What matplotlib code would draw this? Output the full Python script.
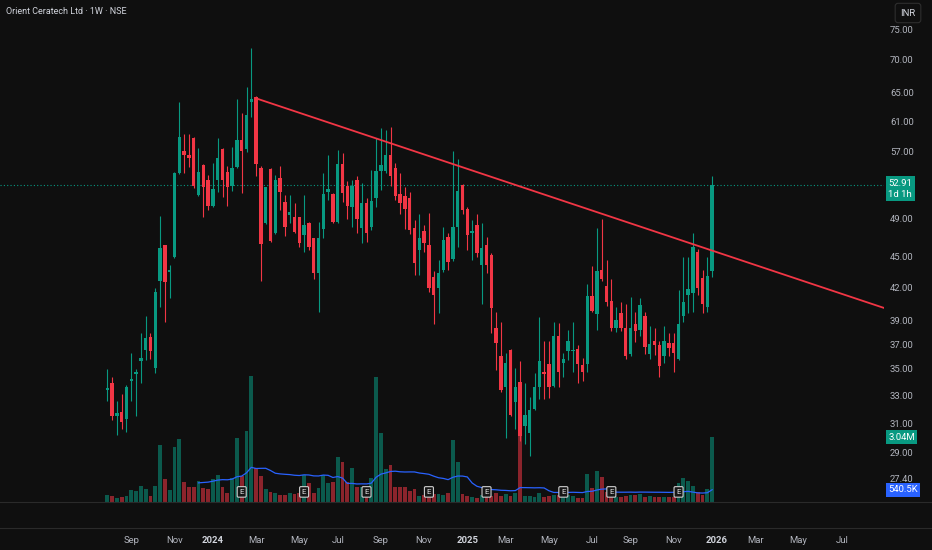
import numpy as np
import pandas as pd
import matplotlib
matplotlib.use('Agg')
import matplotlib.pyplot as plt
from matplotlib.lines import Line2D
from matplotlib.ticker import FixedLocator, NullLocator
from matplotlib.transforms import blended_transform_factory

plt.rcParams['font.family'] = ['Roboto', 'DejaVu Sans']

# weekly candles, first bar = week of 2023-07-31
first_week = '2023-07-31'
opens = [33.4, 33.9, 31.5, 31.8, 31.3, 34.1, 34.6, 35.6, 36.5, 37.6,
         35.1, 42.6, 46.2, 43.5, 45.0, 54.3, 57.0, 56.5, 58.8, 51.7,
         55.3, 53.5, 50.4, 53.5, 57.3, 54.4, 52.8, 55.0, 58.5, 57.3,
         63.7, 64.4, 54.9, 48.5, 54.8, 47.5, 53.7, 50.9, 49.4, 49.2,
         49.2, 47.3, 48.5, 46.9, 43.4, 47.9, 52.1, 51.8, 48.7, 55.4,
         52.8, 50.3, 53.5, 48.0, 50.8, 48.1, 51.4, 54.6, 54.6, 56.5,
         54.9, 51.8, 51.6, 51.3, 48.0, 45.7, 47.7, 46.2, 43.0, 42.0,
         43.7, 47.0, 44.8, 48.1, 52.9, 50.1, 47.5, 48.3, 44.2, 46.2,
         45.2, 38.4, 36.0, 33.6, 36.5, 32.5, 34.0, 30.8, 30.3, 32.0,
         33.6, 34.8, 35.4, 33.7, 37.7, 35.5, 36.4, 36.4, 36.6, 35.3,
         35.4, 41.2, 39.6, 43.7, 42.2, 40.8, 38.4, 39.7, 38.4, 36.2,
         38.7, 38.2, 39.4, 36.2, 37.3, 36.9, 36.0, 37.1, 37.1, 35.8,
         39.4, 41.3, 41.5, 45.5, 42.9, 40.2, 43.6]
highs = [35.0, 34.4, 32.6, 33.1, 33.8, 36.3, 35.0, 37.9, 39.4, 37.9,
         42.0, 49.3, 46.2, 44.2, 54.4, 63.7, 59.3, 59.3, 58.9, 57.5,
         55.4, 54.1, 55.6, 58.8, 57.5, 55.2, 57.6, 64.1, 62.1, 65.9,
         71.8, 64.6, 55.2, 52.6, 54.9, 54.1, 55.2, 51.7, 51.7, 50.8,
         49.2, 51.7, 48.7, 46.9, 48.7, 54.3, 56.5, 51.9, 57.2, 56.8,
         53.3, 53.5, 53.9, 53.1, 51.3, 54.7, 58.8, 60.1, 59.8, 60.2,
         55.6, 54.3, 52.6, 52.1, 48.9, 49.5, 48.3, 49.7, 43.6, 44.7,
         48.1, 47.5, 57.0, 56.1, 53.0, 50.3, 48.9, 49.5, 48.6, 47.0,
         45.4, 39.8, 38.9, 36.3, 36.6, 35.1, 35.6, 33.9, 32.9, 34.7,
         39.3, 37.3, 37.3, 38.9, 38.8, 36.3, 38.2, 38.9, 36.9, 35.9,
         42.3, 44.1, 48.0, 49.0, 44.7, 42.8, 40.2, 40.7, 40.5, 41.1,
         39.8, 41.0, 39.8, 38.5, 38.4, 37.3, 38.5, 37.9, 37.9, 41.8,
         45.0, 45.0, 47.5, 45.8, 43.7, 45.0, 54.0]
lows = [32.6, 31.2, 30.2, 30.6, 30.4, 32.6, 31.5, 33.9, 35.7, 35.8,
        34.7, 40.2, 38.9, 41.0, 44.9, 54.2, 54.3, 55.0, 52.5, 51.6,
        49.2, 50.0, 50.3, 52.1, 51.5, 50.4, 52.2, 54.9, 51.9, 56.9,
        61.6, 54.0, 42.6, 48.4, 46.5, 47.4, 50.0, 47.2, 48.6, 47.5,
        46.0, 45.5, 45.7, 42.8, 39.8, 46.9, 51.1, 48.5, 48.5, 50.9,
        49.0, 48.1, 47.5, 46.4, 46.5, 47.8, 50.3, 52.3, 54.3, 52.8,
        51.1, 49.5, 47.9, 47.4, 43.2, 43.2, 45.5, 41.6, 38.7, 39.7,
        43.5, 43.7, 44.6, 46.0, 49.5, 45.7, 44.7, 45.0, 40.5, 43.4,
        37.9, 34.9, 33.2, 30.0, 31.5, 30.6, 29.8, 29.6, 28.8, 31.9,
        32.7, 32.7, 32.8, 33.6, 33.6, 34.4, 35.7, 34.8, 33.9, 34.1,
        34.8, 39.8, 38.2, 42.6, 40.3, 38.1, 38.0, 38.1, 35.8, 36.0,
        37.2, 37.7, 36.2, 35.8, 36.1, 34.4, 35.5, 36.0, 34.8, 35.7,
        38.9, 39.7, 39.8, 41.3, 39.7, 39.8, 43.0]
closes = [33.5, 31.5, 31.7, 31.1, 33.6, 34.2, 34.7, 35.9, 37.5, 36.4,
          41.6, 45.9, 42.5, 43.7, 54.3, 58.9, 56.5, 56.2, 52.7, 54.4,
          52.6, 50.4, 52.4, 56.2, 53.5, 52.6, 54.9, 58.5, 57.1, 61.9,
          64.1, 55.4, 46.3, 52.6, 46.6, 53.5, 52.1, 48.1, 49.8, 47.6,
          46.4, 48.3, 46.0, 43.4, 46.9, 51.8, 52.4, 48.7, 55.4, 51.9,
          50.4, 52.7, 49.0, 50.8, 47.5, 51.0, 54.5, 55.3, 56.5, 53.9,
          51.6, 50.8, 50.1, 47.8, 44.4, 46.9, 46.4, 42.0, 41.3, 43.4,
          46.7, 44.5, 48.1, 52.2, 50.0, 47.3, 47.7, 45.4, 45.9, 44.2,
          40.1, 37.1, 33.4, 35.5, 31.6, 33.6, 30.1, 31.6, 31.9, 33.6,
          35.6, 34.6, 33.6, 37.7, 34.8, 35.8, 37.3, 36.5, 35.4, 34.8,
          41.2, 39.9, 43.6, 42.8, 40.7, 38.4, 39.1, 38.4, 36.0, 38.4,
          38.1, 40.4, 36.8, 37.0, 36.9, 35.2, 37.3, 36.7, 36.3, 38.7,
          40.7, 41.9, 46.0, 42.0, 40.5, 43.1, 52.91]
volumes_m = [0.31, 0.27, 0.19, 0.24, 0.27, 0.55, 0.50, 0.74, 0.58, 0.27,
             0.74, 2.67, 1.05, 0.55, 2.56, 2.95, 0.94, 0.68, 0.68, 0.97,
             0.66, 0.61, 1.05, 1.26, 0.71, 0.42, 1.10, 2.98, 1.21, 3.33,
             5.92, 1.57, 1.21, 0.60, 0.47, 0.39, 0.31, 0.31, 0.39, 0.36,
             0.40, 1.26, 0.90, 0.42, 0.63, 1.26, 0.86, 0.94, 2.12, 1.85,
             0.94, 1.57, 0.68, 0.71, 0.40, 1.10, 5.86, 3.25, 1.52, 1.73,
             0.68, 0.68, 0.71, 0.50, 0.60, 0.27, 0.30, 0.30, 0.35, 0.36,
             0.31, 0.42, 2.90, 1.88, 0.36, 0.27, 0.20, 0.16, 0.30, 0.30,
             0.27, 0.42, 0.27, 0.36, 0.27, 0.42, 3.14, 0.27, 0.27, 0.24,
             0.42, 0.20, 0.27, 0.31, 0.30, 0.25, 0.30, 0.27, 0.16, 0.16,
             1.30, 0.63, 1.46, 1.18, 0.47, 0.30, 0.20, 0.24, 0.27, 0.31,
             0.31, 0.34, 0.24, 0.27, 0.24, 0.24, 0.24, 0.20, 0.24, 0.89,
             1.10, 0.99, 0.74, 0.47, 0.31, 0.58, 3.04]
earnings_dates = ['2024-02-12', '2024-05-13', '2024-08-12', '2024-11-11',
                  '2025-02-03', '2025-05-26', '2025-08-04', '2025-11-10']
trend_dates = ['2024-03-04', '2026-09-07']
trend_prices = [64.2, 40.1]
price_ticks = [27.4, 29, 31, 33, 35, 37, 39, 42, 45, 49, 57, 61, 65, 70, 75]
countdown = '1d 1h'
vol_ma_text = '540.5K'

BG = '#0f0f0f'
UP = '#089981'
DOWN = '#f23645'
TXT = '#b2b5be'
LINE = '#2a2a2a'

n = len(closes)
start = pd.Timestamp(first_week)
x = np.arange(n)


def week_index(d):
    return (pd.Timestamp(d) - start).days / 7


o, h, l, c = map(np.array, (opens, highs, lows, closes))
vol = np.array(volumes_m) * 1e6
up = c >= o
colors = np.where(up, UP, DOWN)

fig = plt.figure(figsize=(9.32, 5.5), dpi=100, facecolor=BG)
W, H = 932, 550
pane_right, pane_bottom = 884, 501.7
ax = fig.add_axes([0, 1 - pane_bottom / H, pane_right / W, pane_bottom / H])
axv = ax.twinx()
ax.set_zorder(axv.get_zorder() + 1)
ax.patch.set_visible(False)
axv.patch.set_visible(False)

# volume + 20 week average
axv.bar(x, vol, width=0.78, color=colors, alpha=0.55, linewidth=0)
vol_ma = pd.Series(vol).rolling(20).mean()
axv.plot(x, vol_ma, color='#2962ff', lw=0.9)
axv.set_ylim(0, 3.04e6 * pane_bottom / 64.7)
axv.set_yticks([])

# candles
ax.vlines(x, l, h, colors=colors, lw=0.8, zorder=3)
body_lo = np.minimum(o, c)
body_h = np.maximum(np.abs(c - o), body_lo * 0.004)
ax.bar(x, body_h, bottom=body_lo, width=0.7, color=colors, linewidth=0, zorder=4)

# trendline and last price
tx = [week_index(d) for d in trend_dates]
ax.plot(tx, trend_prices, color=DOWN, lw=1.3, zorder=5, solid_capstyle='round')
ax.axhline(c[-1], color=UP, lw=0.8, ls=(0, (1, 2)), zorder=1)

ax.set_yscale('log')
ax.set_ylim(25.99, 80.04)
ax.set_xlim(-22.35, 161.8)
ax.yaxis.tick_right()
ax.yaxis.set_major_locator(FixedLocator(price_ticks))
ax.yaxis.set_minor_locator(NullLocator())
ax.set_yticklabels([f'{p:.2f}' for p in price_ticks])
ax.tick_params(axis='y', length=0, pad=4.3, labelsize=6.8, labelcolor=TXT)
for s in list(ax.spines.values()) + list(axv.spines.values()):
    s.set_visible(False)

# month ticks at the first weekly bar of each odd month
future = pd.date_range(first_week, periods=170, freq='W-MON')
tick_pos, tick_lab = [], []
for i in range(1, len(future)):
    d = future[i]
    if d.month != future[i - 1].month and d.month % 2 == 1 and i < 161.8:
        tick_pos.append(i)
        tick_lab.append(str(d.year) if d.month == 1 else d.strftime('%b'))
ax.set_xticks(tick_pos)
ax.set_xticklabels(tick_lab)
ax.tick_params(axis='x', length=0, pad=25, labelsize=6.8, labelcolor=TXT)
for t in ax.get_xticklabels():
    if t.get_text().isdigit():
        t.set_fontweight('bold')
        t.set_color('#d1d4dc')

# earnings markers
bt = blended_transform_factory(ax.transData, ax.transAxes)
for d in earnings_dates:
    ax.text(week_index(d), 0.0195, 'E', transform=bt, ha='center', va='center',
            fontsize=5.8, color='#e0e0e0', zorder=6,
            bbox=dict(boxstyle='round,pad=0.28,rounding_size=0.15', fc='#161616',
                      ec='#cfcfcf', lw=0.8))

# right scale badges
ax.annotate(f'{c[-1]:.2f}\n{countdown}', xy=(1, c[-1]), xycoords=('axes fraction', 'data'),
            xytext=(3.2, 4.2), textcoords='offset points', ha='left', va='top',
            fontsize=6.8, color='white', linespacing=1.25, annotation_clip=False,
            bbox=dict(boxstyle='square,pad=0.25', fc=UP, ec='none'))
axv.annotate(f'{vol[-1] / 1e6:.2f}M', xy=(1, vol[-1]), xycoords=('axes fraction', 'data'),
             xytext=(3.2, 0), textcoords='offset points', ha='left', va='center',
             fontsize=6.8, color='white', annotation_clip=False,
             bbox=dict(boxstyle='square,pad=0.25', fc=UP, ec='none'))
axv.annotate(vol_ma_text, xy=(1, vol_ma.iloc[-1]), xycoords=('axes fraction', 'data'),
             xytext=(3.2, 0), textcoords='offset points', ha='left', va='center',
             fontsize=6.8, color='white', annotation_clip=False,
             bbox=dict(boxstyle='square,pad=0.25', fc='#2962ff', ec='none'))

# header and frame lines
fig.text(6 / W, 1 - 12 / H, 'Orient Ceratech Ltd · 1W · NSE', ha='left', va='center',
         fontsize=6.5, color='#d1d4dc')
fig.text(908 / W, 1 - 13 / H, 'INR', ha='center', va='center', fontsize=6.8, color='#d1d4dc',
         bbox=dict(boxstyle='round,pad=0.55,rounding_size=0.3', fc=BG, ec='#2e2e2e', lw=0.8))
for yy in (pane_bottom, 528):
    fig.add_artist(Line2D([0, 1], [1 - yy / H] * 2, transform=fig.transFigure,
                          color=LINE, lw=0.8))

fig.savefig('out.png', dpi=100, facecolor=BG)
